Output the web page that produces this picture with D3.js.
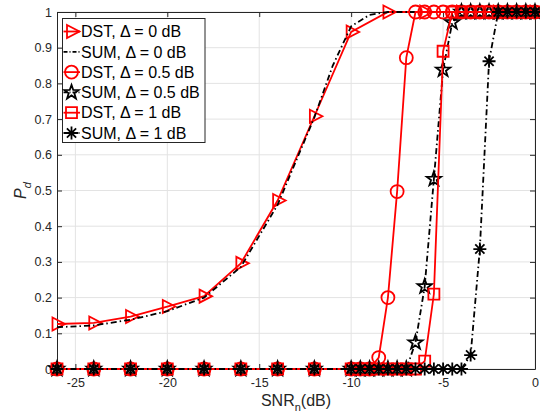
<!DOCTYPE html>
<html>
<head>
<script src="https://d3js.org/d3.v7.min.js"></script>
<style>
body { margin: 0; background: #fff; }
text { font-family: "Liberation Sans", Arial, Helvetica, sans-serif; }
</style>
</head>
<body>
<svg id="chart" width="540" height="415"></svg>
<script>
// SNR grids (dB)
const snrCoarse = [-26, -24, -22, -20, -18, -16, -14, -12, -10, -8, -6, -4, -2, 0];
const snrSum0 = [-26, -24, -22, -20, -18, -16, -14, -12, -11, -10, -9, -8, -6, -4, -2, 0];
const snrFine = [-26, -24, -22, -20, -18, -16, -14, -12, -10, -9.5, -9, -8.5, -8, -7.5, -7, -6.5,
                 -6, -5.5, -5, -4.5, -4, -3.5, -3, -2.5, -2, -1.5, -1, -0.5, 0];

// detection probability
const pdDst0 = [0.126, 0.129, 0.147, 0.175, 0.204, 0.296, 0.472, 0.708, 0.944, 1, 1, 1, 1, 1];
const pdSum0 = [0.117, 0.122, 0.138, 0.162, 0.2, 0.286, 0.46, 0.705, 0.85, 0.96, 0.992, 1, 1, 1, 1, 1];
const pdDst05 = [0, 0, 0, 0, 0, 0, 0, 0, 0, 0, 0,
                 0.032, 0.2, 0.497, 0.872,
                 1, 1, 1, 1, 1, 1, 1, 1, 1, 1, 1, 1, 1, 1];
const pdSum05 = [0, 0, 0, 0, 0, 0, 0, 0, 0, 0, 0, 0, 0, 0, 0,
                 0.074, 0.231, 0.532, 0.838, 0.971,
                 1, 1, 1, 1, 1, 1, 1, 1, 1];
const pdDst1 = [0, 0, 0, 0, 0, 0, 0, 0, 0, 0, 0, 0, 0, 0, 0, 0,
                0.022, 0.21, 0.89,
                1, 1, 1, 1, 1, 1, 1, 1, 1, 1];
const pdSum1 = [0, 0, 0, 0, 0, 0, 0, 0, 0, 0, 0, 0, 0, 0, 0, 0, 0, 0, 0, 0, 0,
                0.039, 0.336, 0.862,
                1, 1, 1, 1, 1];

const legendLabels = ["DST, \u0394 = 0 dB", "SUM, \u0394 = 0 dB", "DST, \u0394 = 0.5 dB",
                      "SUM, \u0394 = 0.5 dB", "DST, \u0394 = 1 dB", "SUM, \u0394 = 1 dB"];
const xTicks = [-25, -20, -15, -10, -5, 0];
const yTicks = [0, 0.1, 0.2, 0.3, 0.4, 0.5, 0.6, 0.7, 0.8, 0.9, 1];

const RED = "#ff0000", BLACK = "#000000", AXIS = "#262626";
const DASHDOT = "6,3,1.5,3";
const LW = 1.8;

// marker paths, centred on 0,0
const markers = {
    triRight: "M-4.5,-6.5L8,0L-4.5,6.5Z",
    none: null,
    circle: "M6.5,0A6.5,6.5 0 1,1 -6.5,0A6.5,6.5 0 1,1 6.5,0Z",
    star: (() => {
        let p = [];
        for (let i = 0; i < 10; i++) {
            let r = i % 2 === 0 ? 7.5 : 3;
            let a = -Math.PI / 2 + i * Math.PI / 5;
            p.push([r * Math.cos(a), r * Math.sin(a)]);
        }
        return "M" + p.map(d => d[0].toFixed(2) + "," + d[1].toFixed(2)).join("L") + "Z";
    })(),
    square: "M-5.5,-5.5H5.5V5.5H-5.5Z",
    asterisk: "M-6.5,0H6.5M0,-6.5V6.5M-4.6,-4.6L4.6,4.6M-4.6,4.6L4.6,-4.6"
};

const series = [
    {x: snrCoarse, y: pdDst0, color: RED, dash: null, marker: "triRight"},
    {x: snrSum0, y: pdSum0, color: BLACK, dash: DASHDOT, marker: "none"},
    {x: snrFine, y: pdDst05, color: RED, dash: null, marker: "circle"},
    {x: snrFine, y: pdSum05, color: BLACK, dash: DASHDOT, marker: "star"},
    {x: snrFine, y: pdDst1, color: RED, dash: null, marker: "square"},
    {x: snrFine, y: pdSum1, color: BLACK, dash: DASHDOT, marker: "asterisk"}
];

const svg = d3.select("#chart");
const plotL = 57, plotR = 535, plotT = 12, plotB = 369;

const x = d3.scaleLinear().domain([-26, 0]).range([plotL, plotR]);
const y = d3.scaleLinear().domain([0, 1]).range([plotB, plotT]);

svg.append("rect").attr("width", 540).attr("height", 415).attr("fill", "#fff");

// grid
const grid = svg.append("g");
grid.selectAll("line.gx").data(xTicks).join("line")
    .attr("x1", d => x(d)).attr("x2", d => x(d))
    .attr("y1", plotT).attr("y2", plotB)
    .attr("stroke", "#e3e3e3").attr("stroke-width", 1);
grid.selectAll("line.gy").data(yTicks).join("line")
    .attr("x1", plotL).attr("x2", plotR)
    .attr("y1", d => y(d)).attr("y2", d => y(d))
    .attr("stroke", "#e3e3e3").attr("stroke-width", 1);

// axes (ticks inside, box all round)
const fmtY = d3.format("~g");
const gL = svg.append("g").attr("transform", `translate(${plotL},0)`)
    .call(d3.axisLeft(y).tickValues(yTicks).tickFormat(fmtY).tickSizeInner(-5).tickSizeOuter(0).tickPadding(5));
const gB = svg.append("g").attr("transform", `translate(0,${plotB})`)
    .call(d3.axisBottom(x).tickValues(xTicks).tickFormat(d => d).tickSizeInner(-5).tickSizeOuter(0).tickPadding(9));
const gT = svg.append("g").attr("transform", `translate(0,${plotT})`)
    .call(d3.axisTop(x).tickValues(xTicks).tickFormat("").tickSizeInner(-5).tickSizeOuter(0));
const gR = svg.append("g").attr("transform", `translate(${plotR},0)`)
    .call(d3.axisRight(y).tickValues(yTicks).tickFormat("").tickSizeInner(-5).tickSizeOuter(0));
[gL, gB, gT, gR].forEach(g => {
    g.selectAll("path.domain").attr("stroke", AXIS).attr("stroke-width", 1);
    g.selectAll(".tick line").attr("stroke", AXIS);
    g.selectAll("text").attr("fill", AXIS).style("font-size", "12.5px")
     .style("font-family", "'Liberation Sans', Arial, sans-serif");
});

// axis titles
const xt = svg.append("text").attr("x", (plotL + plotR) / 2).attr("y", 406)
    .attr("text-anchor", "middle").attr("fill", AXIS).style("font-size", "16px");
xt.append("tspan").text("SNR");
xt.append("tspan").attr("dy", 5).style("font-size", "11px").text("n");
xt.append("tspan").attr("dy", -5).text("(dB)");

const yt = svg.append("text").attr("transform", `translate(26,${(plotT + plotB) / 2}) rotate(-90)`)
    .attr("text-anchor", "middle").attr("fill", AXIS).style("font-size", "16px").style("font-style", "italic");
yt.append("tspan").text("P");
yt.append("tspan").attr("dy", 5).style("font-size", "11px").text("d");

// data
const line = d3.line().x(d => x(d[0])).y(d => y(d[1]));
series.forEach(s => {
    const pts = s.x.map((v, i) => [v, s.y[i]]);
    svg.append("path").datum(pts)
       .attr("d", line)
       .attr("fill", "none")
       .attr("stroke", s.color)
       .attr("stroke-width", LW)
       .attr("stroke-dasharray", s.dash);
    if (markers[s.marker]) {
        svg.append("g").selectAll("path").data(pts).join("path")
           .attr("transform", d => `translate(${x(d[0])},${y(d[1])})`)
           .attr("d", markers[s.marker])
           .attr("fill", "none")
           .attr("stroke", s.color)
           .attr("stroke-width", LW);
    }
});

// legend
const lg = svg.append("g");
lg.append("rect").attr("x", 62.5).attr("y", 18.5).attr("width", 142.5).attr("height", 124)
  .attr("fill", "#fff").attr("stroke", AXIS).attr("stroke-width", 1);
series.forEach((s, i) => {
    const cy = 31.5 + i * 20.3;
    lg.append("line").attr("x1", 63.5).attr("x2", 80).attr("y1", cy).attr("y2", cy)
      .attr("stroke", s.color).attr("stroke-width", LW)
      .attr("stroke-dasharray", s.dash ? "4,2,1,2" : null);
    if (markers[s.marker]) {
        lg.append("path").attr("transform", `translate(71.5,${cy})`)
          .attr("d", markers[s.marker]).attr("fill", "none")
          .attr("stroke", s.color).attr("stroke-width", LW);
    }
    lg.append("text").attr("x", 81).attr("y", cy).attr("dy", "0.36em")
      .attr("fill", "#000").style("font-size", "16px").text(legendLabels[i]);
});
</script>
</body>
</html>
